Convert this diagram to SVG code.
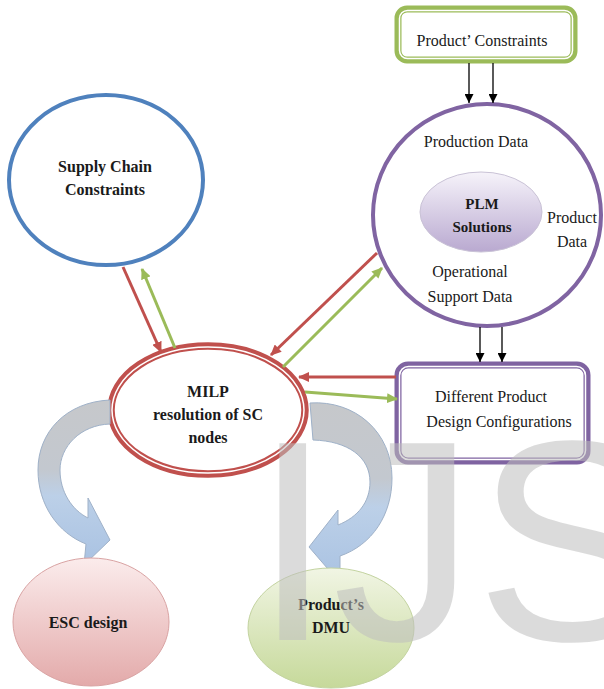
<svg xmlns="http://www.w3.org/2000/svg" width="604" height="689" viewBox="0 0 604 689">
<style>
  text { font-family: "Liberation Serif", "Times New Roman", serif; fill: #1a1a1a; }
  .r { font-size: 16px; }
  .b { font-size: 16px; font-weight: bold; }
  .s { font-size: 15px; font-weight: bold; }
  .c { text-anchor: middle; }
  .blk { stroke: #000; stroke-width: 1.3; fill: none; }
  .red { stroke: #c0504d; stroke-width: 3; fill: none; }
  .grn { stroke: #9bbb59; stroke-width: 3; fill: none; }
  .ribbon { stroke: #9fb1c8; stroke-width: 1; }
  .wm { font-family: "Liberation Sans", Arial, sans-serif; font-size: 286px; fill: #bdbdbd; fill-opacity: 0.55; }
</style>
<defs>
  <marker id="mb" markerUnits="userSpaceOnUse" markerWidth="9" markerHeight="9" refX="9" refY="4.5" orient="auto">
    <path d="M0,0 L9,4.5 L0,9 z" fill="#000"/>
  </marker>
  <marker id="mr" markerUnits="userSpaceOnUse" markerWidth="11" markerHeight="10" refX="10" refY="5" orient="auto">
    <path d="M0,0 L11,5 L0,10 z" fill="#c0504d"/>
  </marker>
  <marker id="mg" markerUnits="userSpaceOnUse" markerWidth="11" markerHeight="10" refX="10" refY="5" orient="auto">
    <path d="M0,0 L11,5 L0,10 z" fill="#9bbb59"/>
  </marker>
  <linearGradient id="gPLM" x1="0" y1="0" x2="0" y2="1">
    <stop offset="0" stop-color="#f6f3fa"/>
    <stop offset="1" stop-color="#b9a9d0"/>
  </linearGradient>
  <linearGradient id="gESC" x1="0" y1="0" x2="0" y2="1">
    <stop offset="0" stop-color="#fbecec"/>
    <stop offset="1" stop-color="#e3aaaa"/>
  </linearGradient>
  <linearGradient id="gDMU" x1="0" y1="0" x2="0" y2="1">
    <stop offset="0" stop-color="#f1f5e4"/>
    <stop offset="1" stop-color="#c6d99a"/>
  </linearGradient>
  <linearGradient id="gRib" x1="0" y1="0" x2="0" y2="1">
    <stop offset="0" stop-color="#c6c8cb"/>
    <stop offset="0.42" stop-color="#c3c8cf"/>
    <stop offset="0.58" stop-color="#bcd0e8"/>
    <stop offset="1" stop-color="#a9c2e2"/>
  </linearGradient>
</defs>

<rect width="604" height="689" fill="#fff"/>

<g id="product-constraints">
  <rect x="398" y="9" width="176" height="51" rx="9" fill="#fff" stroke="#9bbb59" stroke-width="7"/>
  <rect x="399.5" y="10.5" width="173" height="48" rx="8" fill="none" stroke="#fff" stroke-width="1.5"/>
  <text class="r c" x="482" y="46">Product’ Constraints</text>
</g>

<g id="plm">
  <ellipse cx="487" cy="215" rx="114" ry="111" fill="#fff" stroke="#8064a2" stroke-width="4"/>
  <ellipse cx="481" cy="212" rx="61" ry="40" fill="url(#gPLM)" stroke="#c9c2d6" stroke-width="1"/>
  <text class="r c" x="476" y="147">Production Data</text>
  <text class="s c" x="482" y="209">PLM</text>
  <text class="s c" x="482" y="232">Solutions</text>
  <text class="r c" x="572" y="223">Product</text>
  <text class="r c" x="572" y="247">Data</text>
  <text class="r c" x="470" y="277">Operational</text>
  <text class="r c" x="470" y="302">Support Data</text>
</g>

<g id="supply-chain">
  <ellipse cx="106" cy="180" rx="97" ry="85" fill="#fff" stroke="#4f81bd" stroke-width="4"/>
  <text class="b c" x="105" y="172">Supply Chain</text>
  <text class="b c" x="105" y="195">Constraints</text>
</g>

<g id="different-configs">
  <rect x="398" y="365" width="189" height="96" rx="10" fill="#fff" stroke="#7f63a1" stroke-width="7"/>
  <rect x="399.5" y="366.5" width="186" height="93" rx="9" fill="none" stroke="#fff" stroke-width="1.5"/>
  <text class="r c" x="491" y="402">Different Product</text>
  <text class="r c" x="499" y="427">Design Configurations</text>
</g>

<g id="milp">
  <ellipse cx="208" cy="410" rx="97" ry="64" fill="#fff" stroke="#c0504d" stroke-width="7.5"/>
  <ellipse cx="208" cy="410" rx="96" ry="63" fill="none" stroke="#fff" stroke-width="1.5"/>
  <text class="b c" x="208" y="397">MILP</text>
  <text class="b c" x="208" y="420">resolution of SC</text>
  <text class="b c" x="208" y="443">nodes</text>
</g>

<g id="curved-arrows">
  <path class="ribbon" fill="url(#gRib)" d="M110,400 C66,402 38,432 38,470 C38,505 58,533 86,544 L84,565 L110,540 L88,498 L88,518 C72,510 60,492 60,470 C60,447 80,425 110,424 Z"/>
  <path class="ribbon" fill="url(#gRib)" d="M310,403 C355,400 392,432 392,478 C392,515 372,545 340,556 L340,583 L309,547 L338,510 L338,525 C358,517 370,502 370,482 C370,457 348,441 313,440 Z"/>
</g>

<g id="esc-design">
  <ellipse cx="91" cy="622" rx="78" ry="64" fill="url(#gESC)" stroke="#d9a3a3" stroke-width="1"/>
  <text class="b c" x="88" y="628">ESC design</text>
</g>

<g id="dmu">
  <ellipse cx="331" cy="628" rx="83" ry="60" fill="url(#gDMU)" stroke="#c3d3a0" stroke-width="1"/>
  <text class="b c" x="331" y="610">Product’s</text>
  <text class="b c" x="331" y="633">DMU</text>
</g>

<g id="connectors">
  <line class="blk" x1="469" y1="63" x2="469" y2="103" marker-end="url(#mb)"/>
  <line class="blk" x1="493" y1="63" x2="493" y2="103" marker-end="url(#mb)"/>
  <line class="blk" x1="480" y1="327" x2="480" y2="362" marker-end="url(#mb)"/>
  <line class="blk" x1="502" y1="327" x2="502" y2="362" marker-end="url(#mb)"/>
  <line class="red" x1="123" y1="267" x2="161" y2="352" marker-end="url(#mr)"/>
  <line class="grn" x1="175" y1="348" x2="142" y2="269" marker-end="url(#mg)"/>
  <line class="red" x1="377" y1="253" x2="271" y2="355" marker-end="url(#mr)"/>
  <line class="grn" x1="283" y1="367" x2="382" y2="268" marker-end="url(#mg)"/>
  <line class="red" x1="396" y1="377" x2="299" y2="377" marker-end="url(#mr)"/>
  <line class="grn" x1="305" y1="392" x2="397" y2="399" marker-end="url(#mg)"/>
</g>

<g id="watermark">
  <text class="wm" x="253" y="640">IJS</text>
</g>
</svg>
